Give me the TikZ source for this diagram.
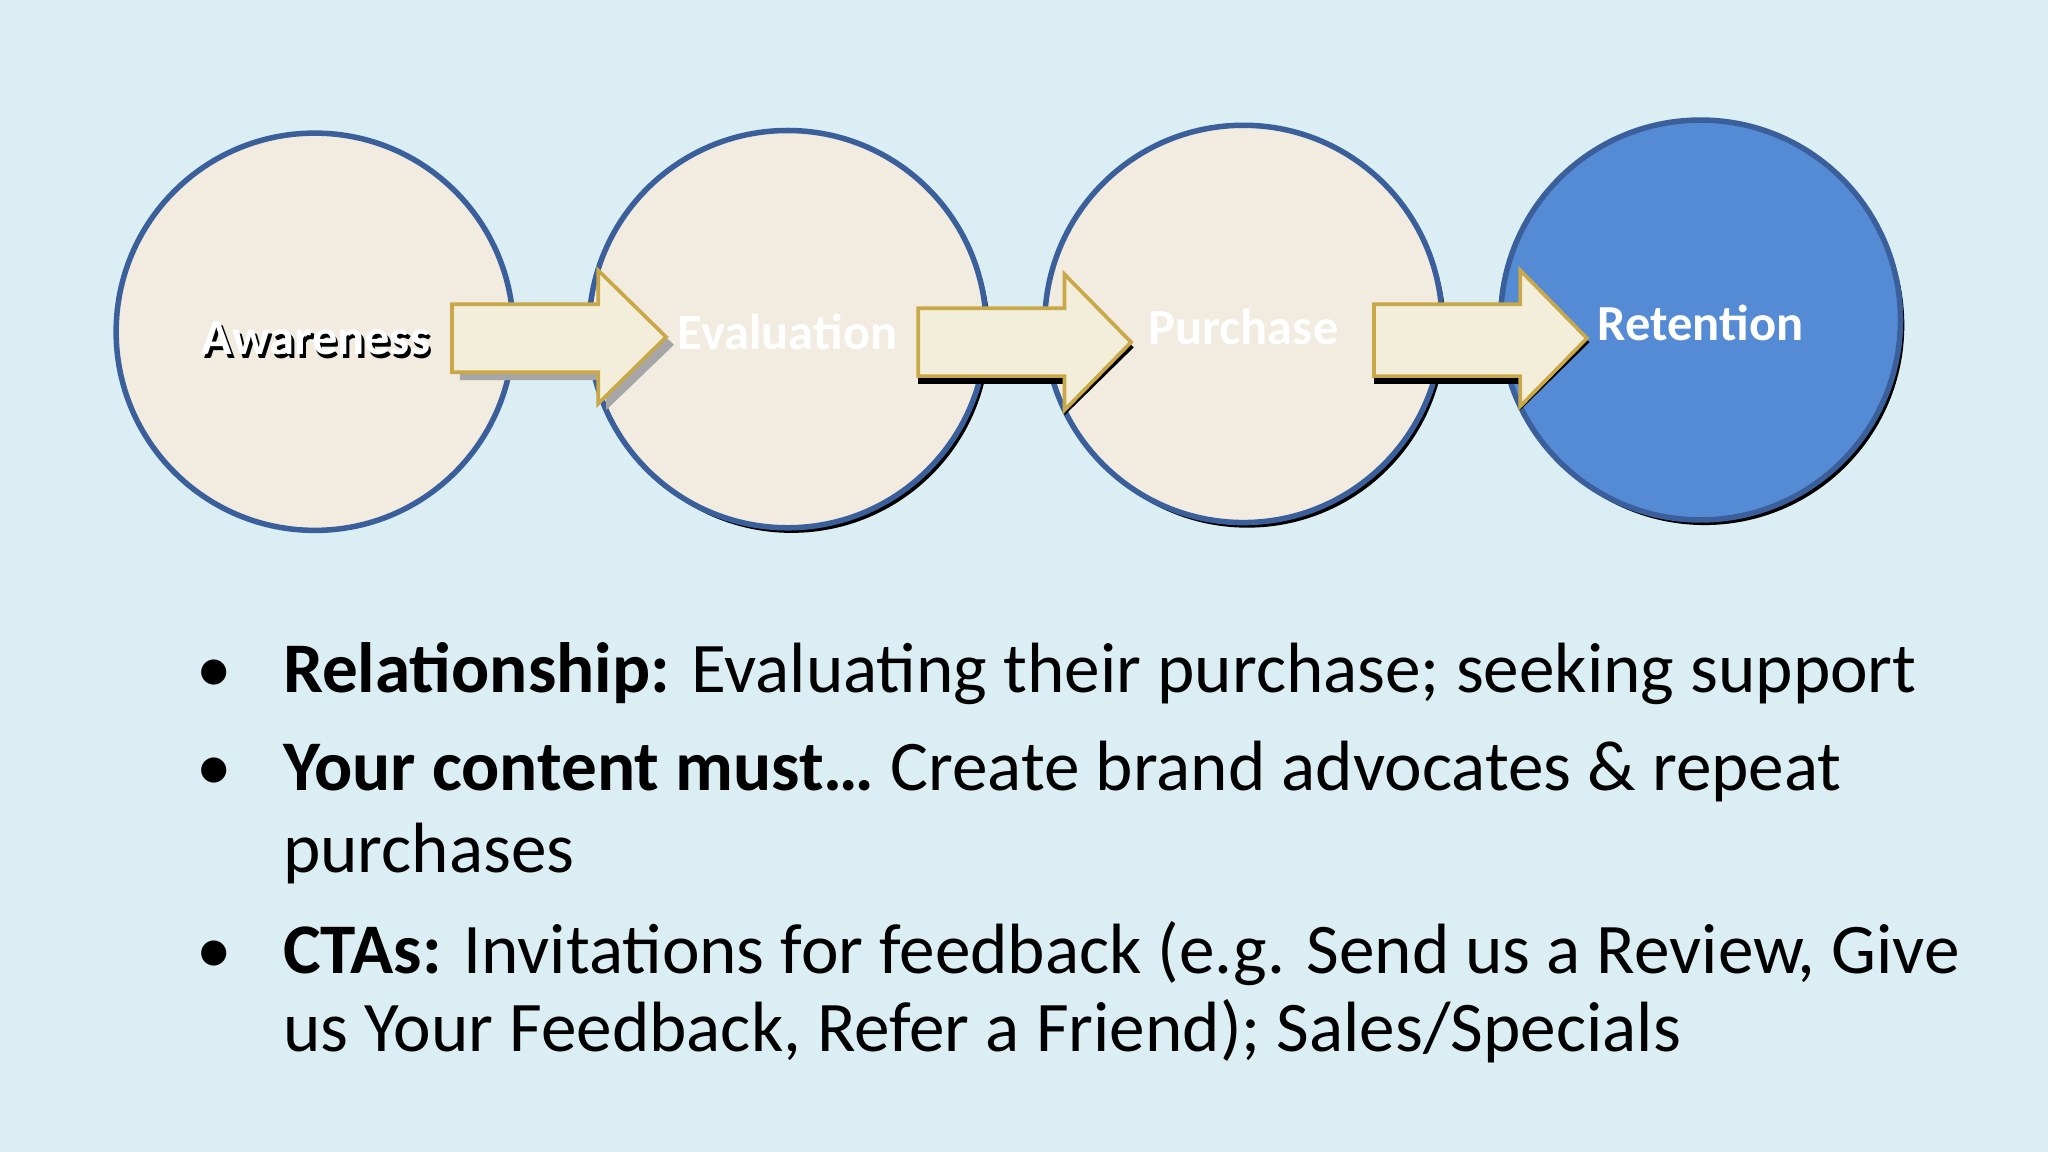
\documentclass[tikz,border=0pt]{standalone}
\usepackage{fontspec}
\setmainfont{Carlito}
\definecolor{bg}{HTML}{DAEEF3}
\definecolor{cream}{HTML}{F1EBE0}
\definecolor{ring}{HTML}{3A5F9A}
\definecolor{blue}{HTML}{548BD4}
\definecolor{arrowline}{HTML}{C8A848}
\definecolor{arrowfill}{HTML}{F2EEDA}
\begin{document}
\begin{tikzpicture}[x=0.01cm,y=-0.01cm,
  circ/.style={circle,draw=ring,line width=1.2pt,minimum size=3.04cm,inner sep=0pt},
  lbl/.style={text=white,font=\fontsize{11pt}{13pt}\selectfont\bfseries},
  arr/.style={draw=arrowline,fill=arrowfill,line width=0.8pt},
  btxt/.style={anchor=base west,font=\fontsize{15.5pt}{18pt}\selectfont,inner sep=0pt}]
\fill[bg] (0,0) rectangle (1568,882);
\useasboundingbox (0,0) rectangle (1568,882);
% shadows
\fill[black] (606,256) circle (152);
\fill[black] (955,252) circle (152);
\fill[black] (1305,249) circle (153);
\node[circ,fill=cream] (c1) at (241,254) {};
\node[circ,fill=cream] (c2) at (603,252) {};
\node[circ,fill=cream] (c3) at (952,248) {};
\node[circ,fill=blue,minimum size=3.06cm] (c4) at (1302,245) {};
% arrows
\fill[gray!70] (352,240) -- (464,240) -- (464,214) -- (516,264) -- (464,314) -- (464,291) -- (352,291) -- cycle;
\draw[arr] (346,233) -- (458,233) -- (458,207) -- (510,258) -- (458,309) -- (458,285) -- (346,285) -- cycle;
\fill[black] (703,240) -- (815,240) -- (815,214) -- (868,266) -- (815,318) -- (815,294) -- (703,294) -- cycle;
\draw[arr] (703,236) -- (815,236) -- (815,210) -- (866,262) -- (815,314) -- (815,288) -- (703,288) -- cycle;
\fill[black] (1052,237) -- (1164,237) -- (1164,211) -- (1217,262) -- (1164,314) -- (1164,294) -- (1052,294) -- cycle;
\draw[arr] (1052,233) -- (1164,233) -- (1164,207) -- (1215,259) -- (1164,311) -- (1164,288) -- (1052,288) -- cycle;
% labels
\node[lbl,text=black] at (244,262) {Awareness};
\node[lbl] (l1) at (242,259) {Awareness};
\node[lbl] (l2) at (603,254) {Evaluation};
\node[lbl] (l3) at (952,250) {Purchase};
\node[lbl] (l4) at (1302,247) {Retention};
% bullets
\foreach \y in {530,605,745} \node[btxt] at (150,\y) {•};
\node[btxt] (b1) at (216,530) {\textbf{Relationship:} Evaluating their purchase; seeking support};
\node[btxt] (b2) at (216,605) {\textbf{Your content must…} Create brand advocates \& repeat};
\node[btxt] (b2b) at (216,668) {purchases};
\node[btxt] (b3) at (216,745) {\textbf{CTAs:} Invitations for feedback (e.g. Send us a Review, Give};
\node[btxt] (b3b) at (216,805) {us Your Feedback, Refer a Friend); Sales/Specials};
\end{tikzpicture}
\end{document}
